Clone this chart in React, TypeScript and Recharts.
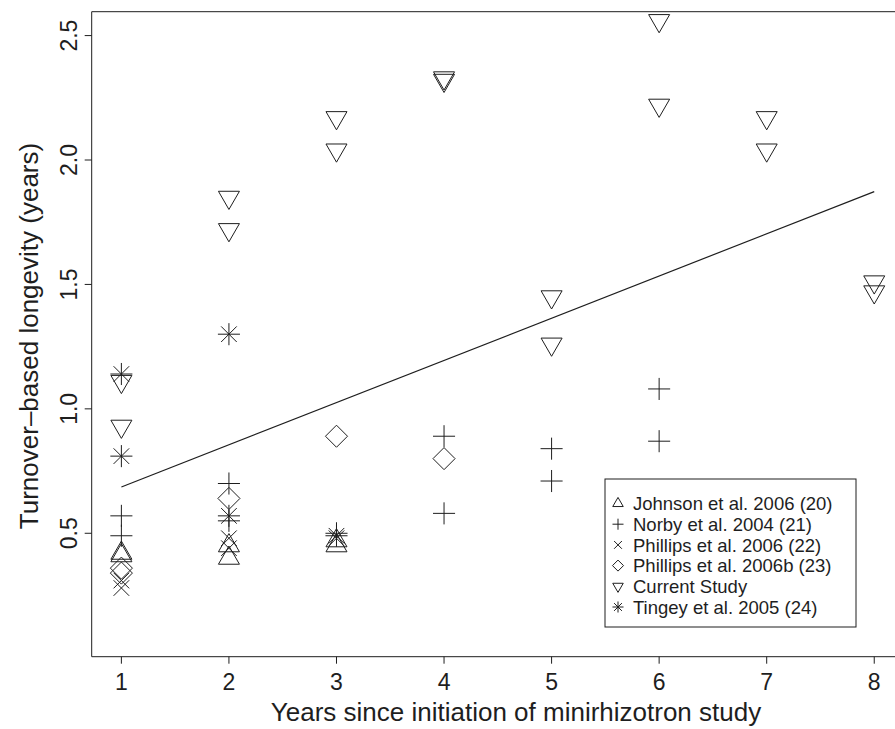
import React from 'react';
import { ScatterChart, Scatter, XAxis, YAxis, ReferenceLine } from 'recharts';

const FONT = '"Liberation Sans", Arial, Helvetica, sans-serif';
const INK = '#1e1e1e';

const xTicks = [1, 2, 3, 4, 5, 6, 7, 8];
const yTicks = [0.5, 1.0, 1.5, 2.0, 2.5];
const xDomain = [0.724, 8.193];
const yDomain = [0.004, 2.596];

const johnsonYears = [1, 1, 2, 2, 3, 3];
const johnsonLongevity = [0.42, 0.41, 0.45, 0.4, 0.47, 0.45];
const norbyYears = [1, 1, 2, 2, 3, 4, 4, 5, 5, 6, 6];
const norbyLongevity = [0.57, 0.49, 0.7, 0.55, 0.5, 0.89, 0.58, 0.84, 0.71, 1.08, 0.87];
const phillipsYears = [1, 1, 2, 2, 3];
const phillipsLongevity = [0.31, 0.28, 0.48, 0.44, 0.48];
const phillipsBYears = [1, 1, 2, 3, 4];
const phillipsBLongevity = [0.36, 0.34, 0.64, 0.89, 0.8];
const currentYears = [1, 1, 2, 2, 3, 3, 4, 4, 5, 5, 6, 6, 7, 7, 8, 8];
const currentLongevity = [1.11, 0.93, 1.85, 1.72, 2.17, 2.04, 2.33, 2.32, 1.45, 1.26, 2.56, 2.22, 2.17, 2.04, 1.51, 1.47];
const tingeyYears = [1, 1, 2, 2, 3];
const tingeyLongevity = [1.14, 0.81, 1.3, 0.57, 0.49];

const fitYears = [1, 8];
const fitLongevity = [0.686, 1.873];

const seriesNames = [
  'Johnson et al. 2006 (20)',
  'Norby et al. 2004 (21)',
  'Phillips et al. 2006 (22)',
  'Phillips et al. 2006b (23)',
  'Current Study',
  'Tingey et al. 2005 (24)',
];

type Kind = 'triUp' | 'plus' | 'cross' | 'diamond' | 'triDown' | 'star';

const toPoints = (xs: number[], ys: number[]) => xs.map((x, i) => ({ x, y: ys[i] }));

const series: { name: string; kind: Kind; data: { x: number; y: number }[] }[] = [
  { name: seriesNames[0], kind: 'triUp', data: toPoints(johnsonYears, johnsonLongevity) },
  { name: seriesNames[1], kind: 'plus', data: toPoints(norbyYears, norbyLongevity) },
  { name: seriesNames[2], kind: 'cross', data: toPoints(phillipsYears, phillipsLongevity) },
  { name: seriesNames[3], kind: 'diamond', data: toPoints(phillipsBYears, phillipsBLongevity) },
  { name: seriesNames[4], kind: 'triDown', data: toPoints(currentYears, currentLongevity) },
  { name: seriesNames[5], kind: 'star', data: toPoints(tingeyYears, tingeyLongevity) },
];

const fitData = toPoints(fitYears, fitLongevity);

function Glyph({ kind, cx, cy, s }: { kind: Kind; cx: number; cy: number; s: number }) {
  const common = { fill: 'none', stroke: INK, strokeWidth: 1 };
  const r = 1.555 * s;
  const xc = 1.347 * s;
  const yc = 0.778 * s;
  const q = 1.4142 * s;
  switch (kind) {
    case 'triUp':
      return <path d={`M${cx},${cy - r}L${cx + xc},${cy + yc}L${cx - xc},${cy + yc}Z`} {...common} />;
    case 'triDown':
      return <path d={`M${cx},${cy + r}L${cx + xc},${cy - yc}L${cx - xc},${cy - yc}Z`} {...common} />;
    case 'plus':
      return <path d={`M${cx - q},${cy}L${cx + q},${cy}M${cx},${cy - q}L${cx},${cy + q}`} {...common} />;
    case 'cross':
      return <path d={`M${cx - s},${cy - s}L${cx + s},${cy + s}M${cx - s},${cy + s}L${cx + s},${cy - s}`} {...common} />;
    case 'diamond':
      return <path d={`M${cx},${cy - q}L${cx + q},${cy}L${cx},${cy + q}L${cx - q},${cy}Z`} {...common} />;
    case 'star':
      return (
        <path
          d={`M${cx - s},${cy - s}L${cx + s},${cy + s}M${cx - s},${cy + s}L${cx + s},${cy - s}M${cx - q},${cy}L${cx + q},${cy}M${cx},${cy - q}L${cx},${cy + q}`}
          {...common}
        />
      );
    default:
      return null;
  }
}

const XTick = (p: any) => (
  <text x={p.x} y={p.y + 26.3} textAnchor="middle" fontSize={23} fontFamily={FONT} fill={INK}>
    {p.payload.value}
  </text>
);

const YTick = (p: any) => {
  const bx = p.x - 8;
  return (
    <text
      x={bx}
      y={p.y}
      transform={`rotate(-90, ${bx}, ${p.y})`}
      textAnchor="middle"
      fontSize={23}
      fontFamily={FONT}
      fill={INK}
    >
      {Number(p.payload.value).toFixed(1)}
    </text>
  );
};

export default function App() {
  const legendTop = 479;
  const rowStart = 503.5;
  const rowGap = 20.7;
  return (
    <div style={{ position: 'absolute', left: 0, top: 0, width: 895, height: 729, background: '#fff' }}>
      <ScatterChart width={895} height={729} margin={{ top: 11.7, right: 0, bottom: 0, left: 0 }}>
        <XAxis
          type="number"
          dataKey="x"
          domain={xDomain}
          ticks={xTicks}
          allowDataOverflow
          height={72.3}
          tickSize={7}
          tickMargin={0}
          tickLine={{ stroke: INK, strokeWidth: 1 }}
          axisLine={{ stroke: INK, strokeWidth: 1 }}
          tick={XTick}
          interval={0}
        />
        <YAxis
          type="number"
          dataKey="y"
          domain={yDomain}
          ticks={yTicks}
          allowDataOverflow
          width={91.7}
          tickSize={7}
          tickMargin={0}
          tickLine={{ stroke: INK, strokeWidth: 1 }}
          axisLine={{ stroke: INK, strokeWidth: 1 }}
          tick={YTick}
          interval={0}
        />
        <ReferenceLine y={yDomain[1]} stroke={INK} strokeWidth={1} />
        <Scatter
          data={fitData}
          line={{ stroke: INK, strokeWidth: 1.2 }}
          shape={() => <g />}
          isAnimationActive={false}
        />
        {series.map((sr) => (
          <Scatter
            key={sr.name}
            name={sr.name}
            data={sr.data}
            isAnimationActive={false}
            shape={(p: any) => <Glyph kind={sr.kind} cx={p.cx} cy={p.cy} s={7.8} />}
          />
        ))}
      </ScatterChart>
      <svg
        width={895}
        height={729}
        style={{ position: 'absolute', left: 0, top: 0, pointerEvents: 'none' }}
      >
        <text x={516} y={721} textAnchor="middle" fontSize={26} fontFamily={FONT} fill={INK}>
          Years since initiation of minirhizotron study
        </text>
        <text
          x={38}
          y={336}
          transform="rotate(-90, 38, 336)"
          textAnchor="middle"
          fontSize={26}
          fontFamily={FONT}
          fill={INK}
        >
          Turnover–based longevity (years)
        </text>
        <rect x={605} y={legendTop} width={251} height={148} fill="#fff" stroke={INK} strokeWidth={1} />
        {series.map((sr, i) => {
          const cy = rowStart + i * rowGap;
          return (
            <g key={sr.name}>
              <Glyph kind={sr.kind} cx={618} cy={cy} s={3.9} />
              <text x={633} y={cy + 6.6} fontSize={18.5} fontFamily={FONT} fill={INK}>
                {sr.name}
              </text>
            </g>
          );
        })}
      </svg>
    </div>
  );
}
